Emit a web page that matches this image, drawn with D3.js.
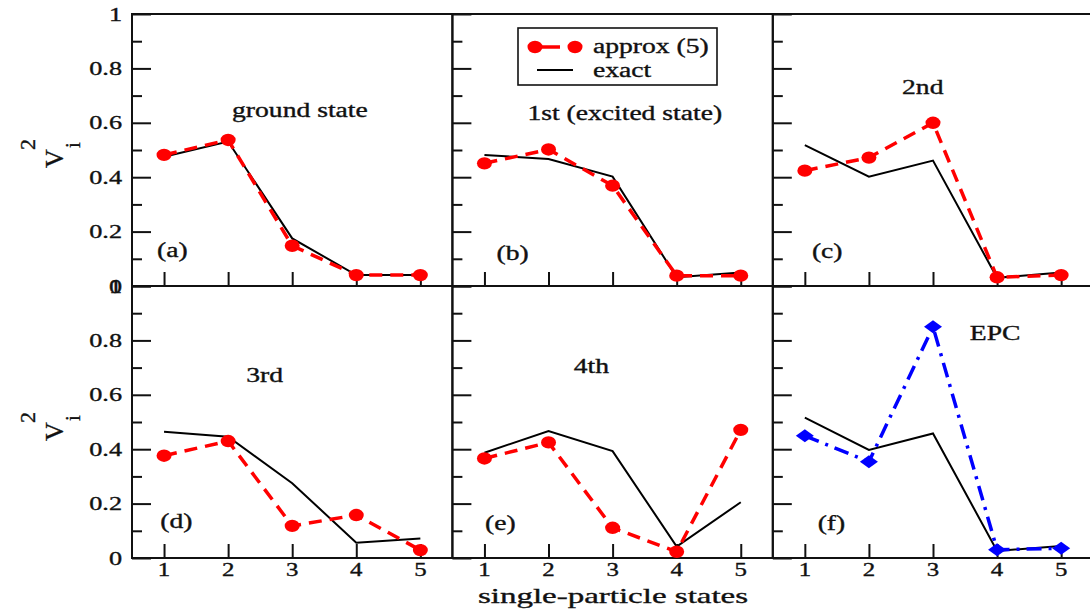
<!DOCTYPE html>
<html><head><meta charset="utf-8">
<script src="https://cdn.jsdelivr.net/npm/d3@7"></script>
<style>body{margin:0;background:#fff}svg{display:block}text{font-family:"Liberation Serif","Times New Roman",serif;fill:#111}</style>
</head><body><svg id="c" width="1090" height="615"></svg>
<script>
const states = [1, 2, 3, 4, 5];
const yTicks = [0, 0.2, 0.4, 0.6, 0.8, 1];
const yMinor = [0.1, 0.3, 0.5, 0.7, 0.9];
const approxA = [0.482, 0.537, 0.148, 0.040, 0.040];
const exactA  = [0.475, 0.531, 0.175, 0.040, 0.040];
const approxB = [0.451, 0.502, 0.369, 0.038, 0.038];
const exactB  = [0.482, 0.467, 0.402, 0.032, 0.050];
const approxC = [0.424, 0.472, 0.600, 0.032, 0.040];
const exactC  = [0.518, 0.402, 0.461, 0.030, 0.050];
const approxD = [0.376, 0.430, 0.118, 0.158, 0.029];
const exactD  = [0.464, 0.446, 0.275, 0.056, 0.072];
const approxE = [0.366, 0.425, 0.111, 0.023, 0.471];
const exactE  = [0.387, 0.467, 0.393, 0.042, 0.205];
const epcF    = [0.449, 0.354, 0.850, 0.030, 0.036];
const exactF  = [0.516, 0.397, 0.458, 0.026, 0.044];
const titles = ["ground state", "1st (excited state)", "2nd", "3rd", "4th", "EPC"];
const letters = ["(a)", "(b)", "(c)", "(d)", "(e)", "(f)"];
// annotation anchors in data coordinates [x, y]
const titleAt = [[3.12, 0.621], [3.19, 0.61], [2.84, 0.706], [2.57, 0.647], [2.67, 0.68], [3.97, 0.80]];
const letterAt = [[0.89, 0.107], [1.19, 0.096], [1.11, 0.103], [0.94, 0.110], [1.01, 0.103], [1.20, 0.103]];
const legendLabels = ["approx (5)", "exact"];
const xLabel = "single-particle states";

const panels = [
  {col:0,row:0, alt:approxA, exact:exactA, kind:"approx"},
  {col:1,row:0, alt:approxB, exact:exactB, kind:"approx"},
  {col:2,row:0, alt:approxC, exact:exactC, kind:"approx"},
  {col:0,row:1, alt:approxD, exact:exactD, kind:"approx"},
  {col:1,row:1, alt:approxE, exact:exactE, kind:"approx"},
  {col:2,row:1, alt:epcF, exact:exactF, kind:"epc"}
];

const svg = d3.select("#c");
const L0 = 132, W = 320.4, T0 = 14, H = 272, SX = 1.38;
const stroke = "#111";

function txt(g, x, y, s, size, anchor, sx) {
  return g.append("text").attr("transform", `translate(${x},${y}) scale(${sx||SX},1)`)
    .attr("text-anchor", anchor || "start").style("font-size", size + "px")
    .style("stroke", "#111").style("stroke-width", 0.35).text(s);
}

panels.forEach((p, i) => {
  const left = L0 + p.col * W, top = T0 + p.row * H, bottom = top + H;
  const x = d3.scaleLinear().domain([0.5, 5.5]).range([left, left + W]);
  const y = d3.scaleLinear().domain([0, 1]).range([bottom, top]);
  const g = svg.append("g");

  g.append("rect").attr("x", left).attr("y", top).attr("width", W).attr("height", H)
    .attr("fill", "none").attr("stroke", stroke).attr("stroke-width", 2);

  const yAx = d3.axisRight(y).tickValues(yTicks).tickSize(19).tickFormat("");
  const ya = g.append("g").attr("transform", `translate(${left},0)`).call(yAx);
  const yAm = d3.axisRight(y).tickValues(yMinor).tickSize(10).tickFormat("");
  const yb = g.append("g").attr("transform", `translate(${left},0)`).call(yAm);
  const xAx = d3.axisTop(x).tickValues(states).tickSize(14).tickFormat("");
  const xa = g.append("g").attr("transform", `translate(0,${bottom})`).call(xAx);
  [ya, yb, xa].forEach(a => { a.select(".domain").remove(); a.selectAll("line").attr("stroke", stroke).attr("stroke-width", 2); });

  if (p.col === 0) {
    yTicks.forEach(v => txt(g, 122, y(v) + 6.5, String(v), 19, "end"));
  }
  if (p.row === 1) {
    states.forEach(v => txt(g, x(v), 576, String(v), 18, "middle"));
  }

  const line = d3.line().x((d, k) => x(states[k])).y(d => y(d));
  g.append("path").datum(p.exact).attr("d", line).attr("fill", "none")
    .attr("stroke", "#000").attr("stroke-width", 2);

  if (p.kind === "approx") {
    g.append("path").datum(p.alt).attr("d", line).attr("fill", "none")
      .attr("stroke", "#ff0000").attr("stroke-width", 3.5).attr("stroke-dasharray", "13,8");
    g.selectAll(".m").data(p.alt).enter().append("ellipse")
      .attr("cx", (d, k) => x(states[k])).attr("cy", d => y(d))
      .attr("rx", 7.5).attr("ry", 6.2).attr("fill", "#ff0000");
  } else {
    g.append("path").datum(p.alt).attr("d", line).attr("fill", "none")
      .attr("stroke", "#0000ff").attr("stroke-width", 3.5).attr("stroke-dasharray", "15,7,3,7");
    g.selectAll(".m").data(p.alt).enter().append("path")
      .attr("transform", (d, k) => `translate(${x(states[k])},${y(d)})`)
      .attr("d", "M-9,0L0,-6.5L9,0L0,6.5Z").attr("fill", "#0000ff");
  }

  txt(g, x(titleAt[i][0]), y(titleAt[i][1]), titles[i], 20, "middle");
  txt(g, x(letterAt[i][0]), y(letterAt[i][1]), letters[i], 20, "start");
});

// y-axis titles
[T0 + 154, T0 + H + 155].forEach(cy => {
  const g = svg.append("g").attr("transform", `translate(63,${cy}) rotate(-90)`);
  g.append("text").attr("x", 0).attr("y", 0).style("font-size", "26px")
    .style("stroke", "#111").style("stroke-width", 0.35).text("V");
  g.append("text").attr("x", 18).attr("y", -28).style("font-size", "22px")
    .style("stroke", "#111").style("stroke-width", 0.35).text("2");
  g.append("text").attr("x", 20).attr("y", 17).style("font-size", "21px")
    .style("stroke", "#111").style("stroke-width", 0.35).text("i");
});

txt(svg, 613, 603, xLabel, 22, "middle", 1.5);

// legend
const lg = svg.append("g");
lg.append("rect").attr("x", 518).attr("y", 28).attr("width", 199).attr("height", 57)
  .attr("fill", "#fff").attr("stroke", stroke).attr("stroke-width", 1.6);
lg.append("line").attr("x1", 535).attr("x2", 575).attr("y1", 47).attr("y2", 47)
  .attr("stroke", "#ff0000").attr("stroke-width", 3.5).attr("stroke-dasharray", "0,5,20,100");
[535, 575].forEach(cx => lg.append("ellipse").attr("cx", cx).attr("cy", 47).attr("rx", 7.5).attr("ry", 6.2).attr("fill", "#ff0000"));
lg.append("line").attr("x1", 537).attr("x2", 573).attr("y1", 70).attr("y2", 70)
  .attr("stroke", "#000").attr("stroke-width", 2);
txt(lg, 593, 53, legendLabels[0], 20, "start");
txt(lg, 593, 77, legendLabels[1], 20, "start");
</script></body></html>
